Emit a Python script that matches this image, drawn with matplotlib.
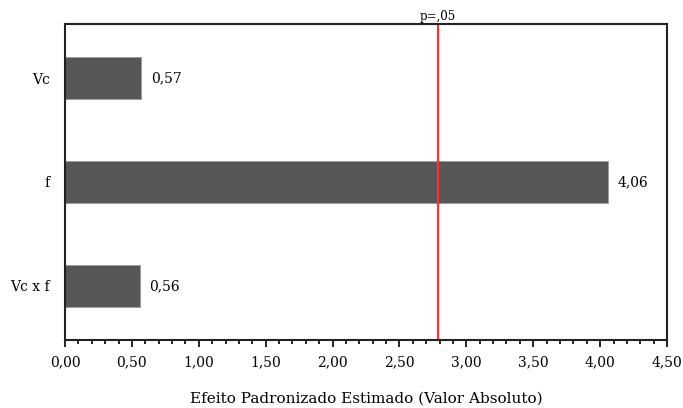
import matplotlib.pyplot as plt
from matplotlib.ticker import MultipleLocator, FuncFormatter

plt.rcParams['font.family'] = ['DejaVu Serif']

factors = ['Vc', 'f', 'Vc x f']
effects = [0.57, 4.06, 0.56]
labels = ['0,57', '4,06', '0,56']
p_crit = 2.785


def main():
    fig = plt.figure(figsize=(6.83, 4.08), dpi=100)
    ax = fig.add_axes([0.0952, 0.1667, 0.8814, 0.7745])

    ypos = list(range(len(factors)))
    ax.barh(ypos, effects, height=0.4, color='#575757', edgecolor='#9a9a9a', linewidth=0.6)
    for y, v, lab in zip(ypos, effects, labels):
        ax.text(v + 0.07, y, lab, va='center', ha='left', fontsize=10)

    ax.axvline(p_crit, color='#ff3030', linewidth=1.6)
    ax.text(p_crit, 1.003, 'p=,05', ha='center', va='bottom', fontsize=8.5,
            transform=ax.get_xaxis_transform())

    ax.set_xlim(0, 4.5)
    ax.set_ylim(2.52, -0.52)
    ax.set_yticks(ypos)
    ax.set_yticklabels(factors, fontsize=10)
    ax.tick_params(axis='y', length=0, pad=11)

    ax.xaxis.set_major_locator(MultipleLocator(0.5))
    ax.xaxis.set_minor_locator(MultipleLocator(0.1))
    ax.xaxis.set_major_formatter(FuncFormatter(lambda x, p: f'{x:.2f}'.replace('.', ',')))
    ax.tick_params(axis='x', which='major', length=5, width=1.2, labelsize=10, pad=6)
    ax.tick_params(axis='x', which='minor', length=3, width=1.2)

    for s in ax.spines.values():
        s.set_linewidth(1.5)
        s.set_color('#222222')

    ax.set_xlabel('Efeito Padronizado Estimado (Valor Absoluto)', fontsize=11, labelpad=16)

    fig.savefig('out.png', dpi=100)


if __name__ == '__main__':
    main()
